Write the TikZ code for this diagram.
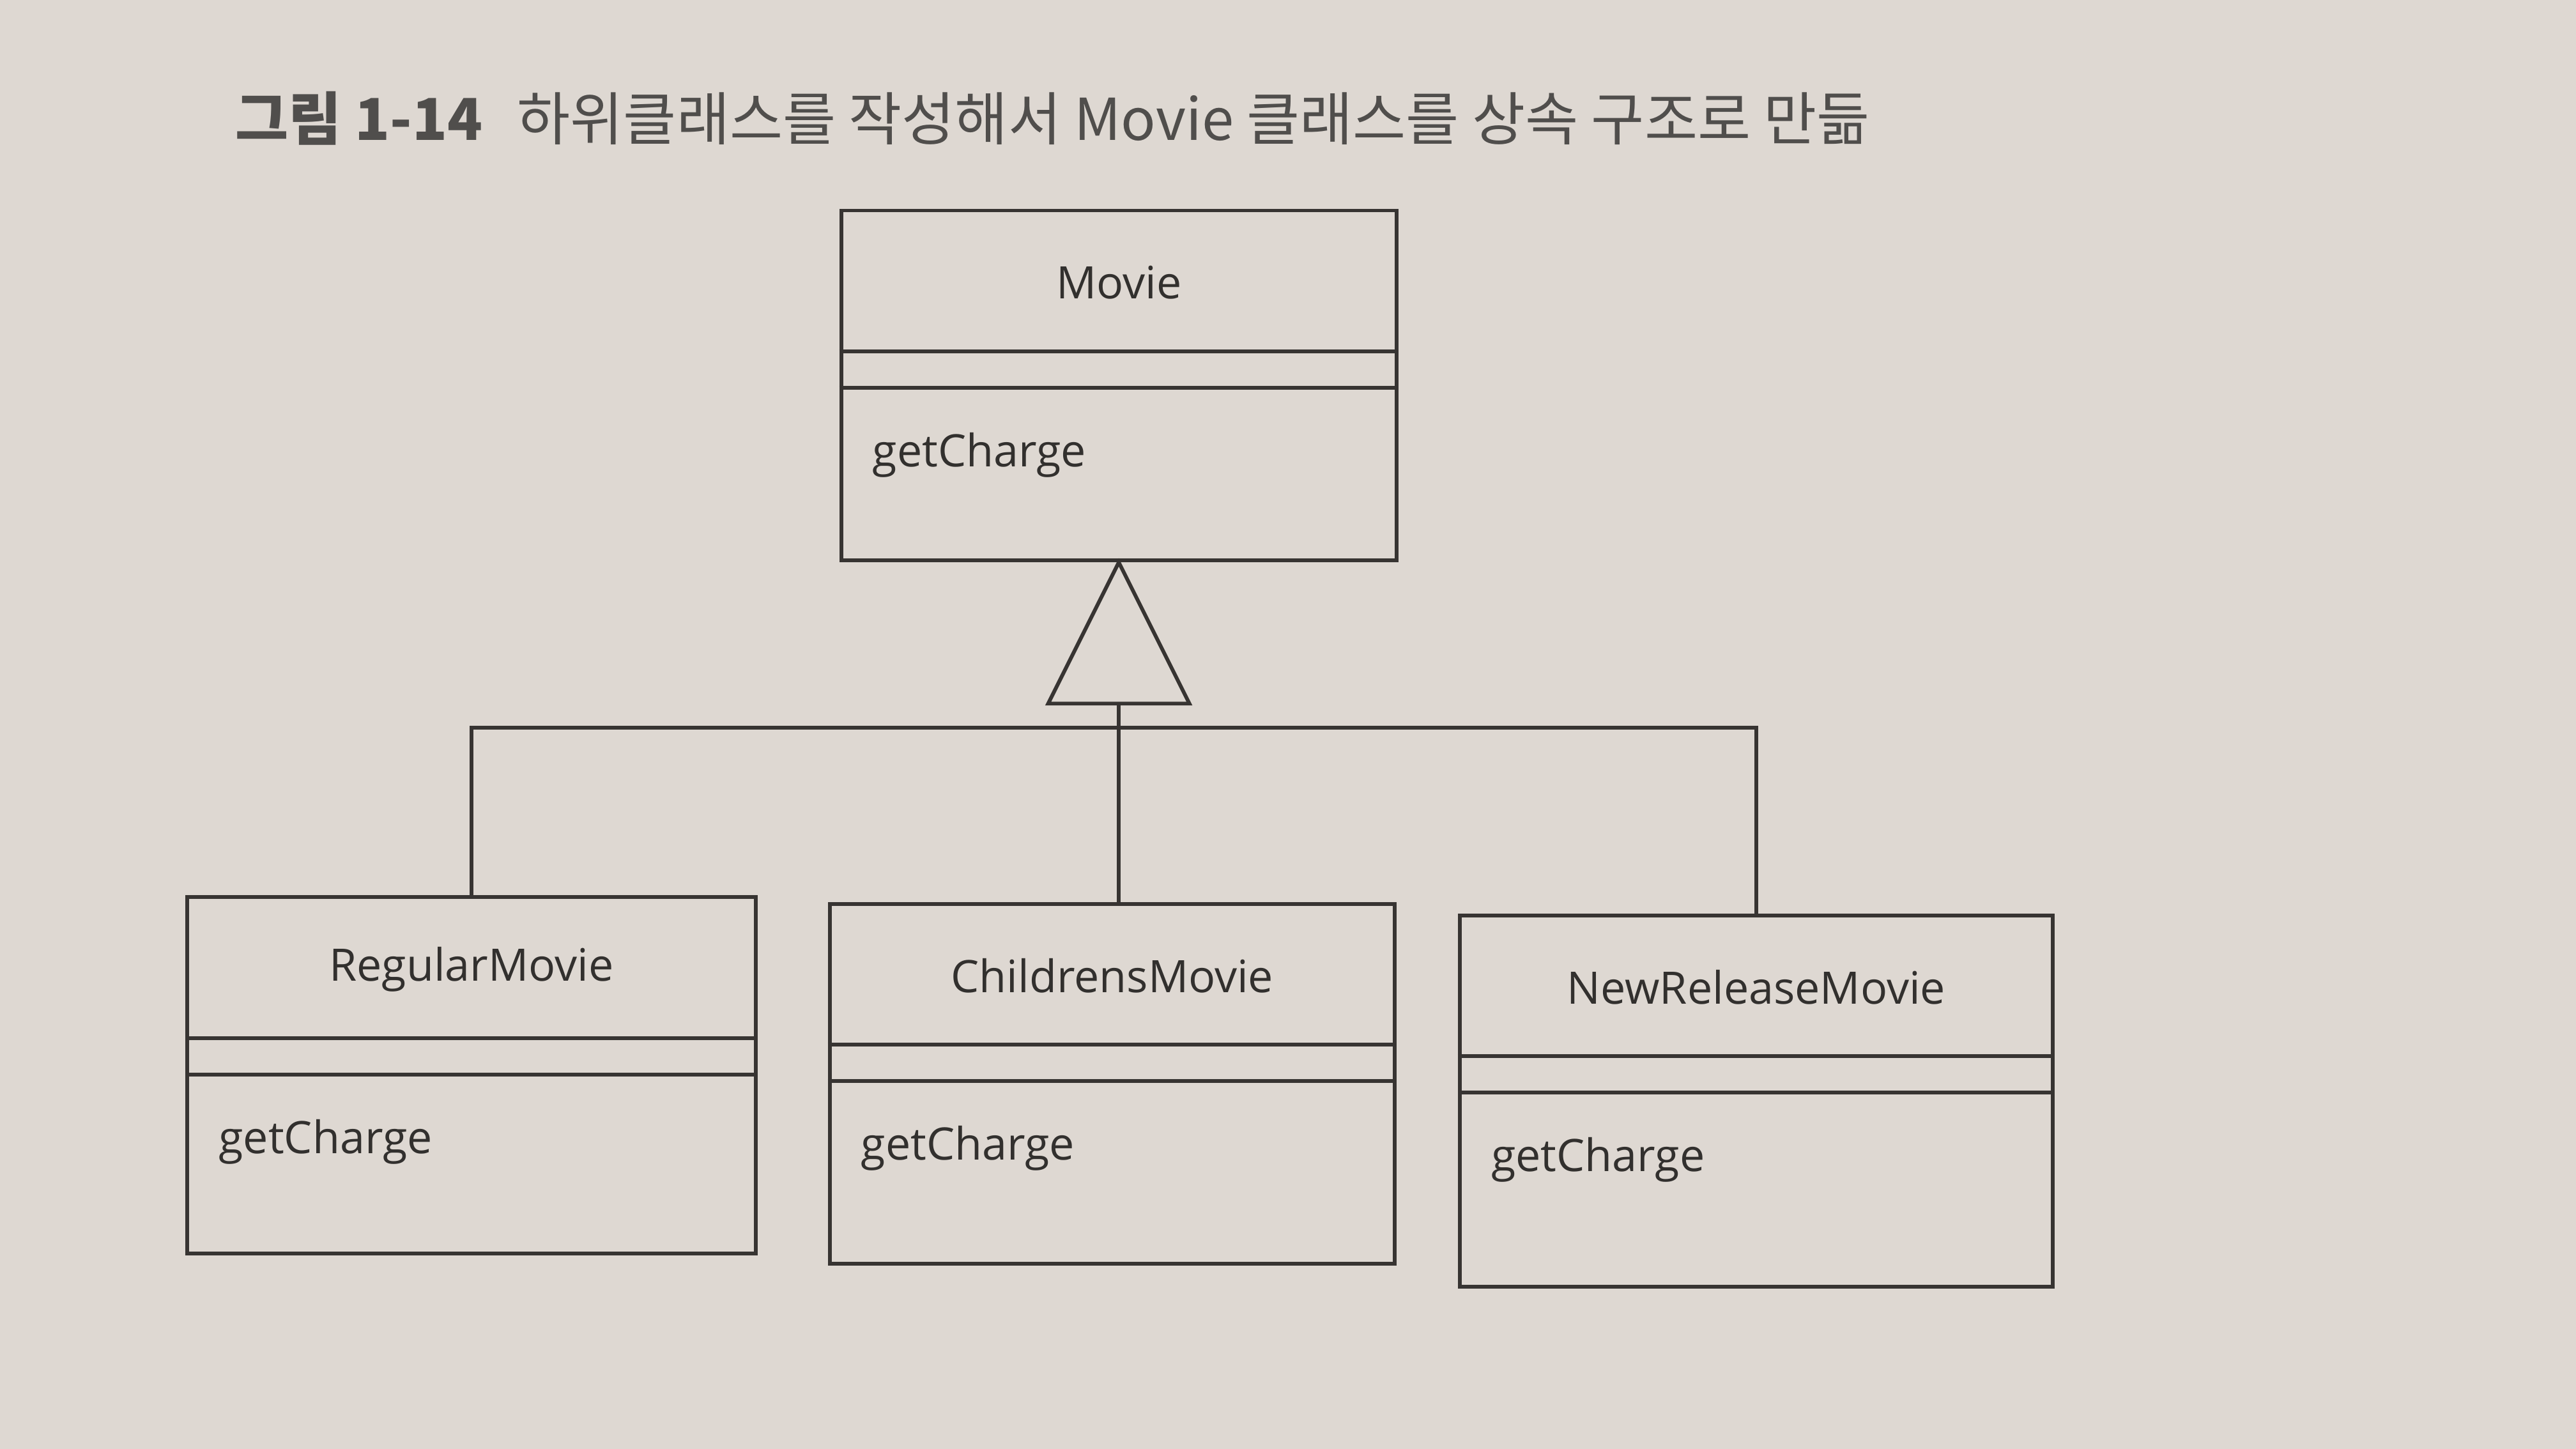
\documentclass[tikz,border=0pt]{standalone}
\usepackage{fontspec}
\newfontfamily\krfont{Noto Sans CJK KR}
\newfontfamily\boxfont{Open Sans}
\definecolor{pagebg}{RGB}{222,216,210}
\definecolor{inkline}{RGB}{55,52,50}
\definecolor{inktext}{RGB}{50,48,46}
\definecolor{captionink}{RGB}{80,78,76}
\tikzset{
    classbox/.style={draw=inkline, line width=1.3pt, inner sep=0pt, anchor=north},
    classline/.style={draw=inkline, line width=1.3pt},
    classname/.style={font=\boxfont\fontsize{15.5}{18}\selectfont, text=inktext, inner sep=0pt},
    classop/.style={font=\boxfont\fontsize{15.5}{18}\selectfont, text=inktext, inner sep=0pt, anchor=west},
}
\begin{document}
\begin{tikzpicture}[x=0.2mm, y=-0.2mm]
    \fill[pagebg] (0,0) rectangle (1568,882);
    \useasboundingbox (0,0) rectangle (1568,882);

    % --- caption ---
    \node[anchor=west, inner sep=0pt, text=captionink, font=\krfont\fontsize{20}{24}\selectfont] (caption) at (143,72)
        {{\bfseries 그림 1-14}\hspace{0.6em}하위클래스를 작성해서 Movie 클래스를 상속 구조로 만듦};

    % --- class boxes: name / empty attributes / getCharge ---
    \foreach \nm/\txt/\cx/\cy/\bw/\bh in {movie/Movie/681/127/338/213,
                                         regular/RegularMovie/287/545/346/217,
                                         childrens/ChildrensMovie/677/549/344/219,
                                         newrelease/NewReleaseMovie/1069/556/361/226} {
        \node[classbox, minimum width=\bw*0.2mm, minimum height=\bh*0.2mm] (\nm) at (\cx,\cy) {};
        \draw[classline] ([yshift=-17.4mm]\nm.north west) -- ([yshift=-17.4mm]\nm.north east);
        \draw[classline] ([yshift=-21.8mm]\nm.north west) -- ([yshift=-21.8mm]\nm.north east);
        \node[classname] (\nm-name) at ([yshift=-9mm]\nm.north) {\txt};
        \node[classop] (\nm-op) at ([xshift=4mm, yshift=-30mm]\nm.north west) {getCharge};
    }

    % --- generalisation: hollow triangle and bus ---
    \draw[classline, line join=miter] (movie.south) -- ++(-43,86) -- ++(86,0) -- cycle;
    \coordinate (tri) at ([yshift=-17.2mm]movie.south);
    \coordinate (bus) at (tri |- 0,443);
    \draw[classline] (tri) -- (tri |- childrens.north);
    \draw[classline] (regular.north) |- (newrelease.north |- bus) -- (newrelease.north);
\end{tikzpicture}
\end{document}
